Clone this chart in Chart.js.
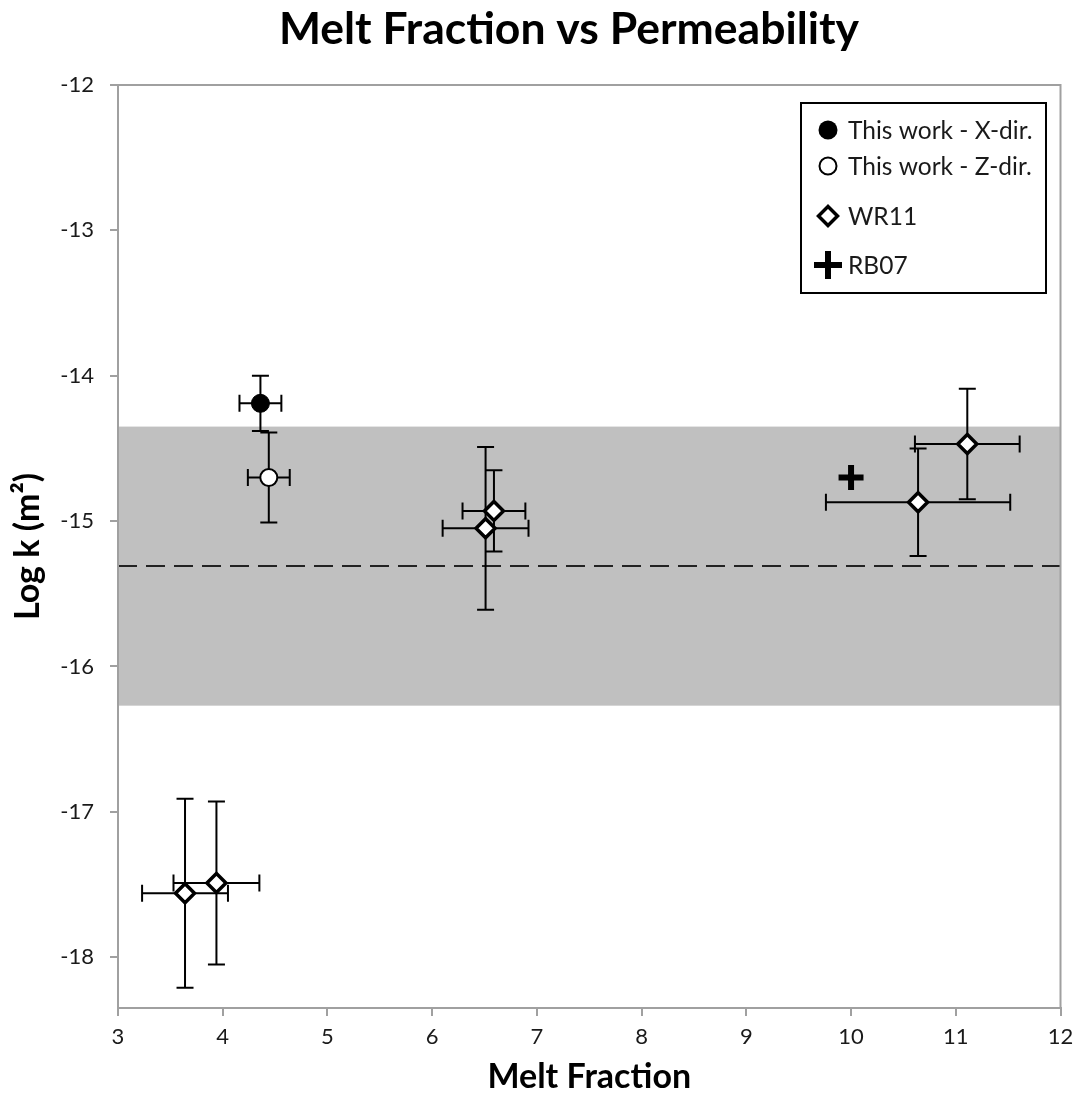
<!DOCTYPE html>
<html>
<head>
<meta charset="utf-8">
<script src="https://cdn.jsdelivr.net/npm/chart.js@4.4.1/dist/chart.umd.min.js"></script>
<style>
  html, body { margin: 0; padding: 0; background: #fff; }
</style>
</head>
<body>
<canvas id="chart" width="1079" height="1094"></canvas>
<script>
// values
const xDirX = [4.36];
const xDirY = [-14.19];
const xDirXErr = [0.2];
const xDirYErr = [0.19];

const zDirX = [4.44];
const zDirY = [-14.70];
const zDirXErr = [0.2];
const zDirYErr = [0.31];

const wr11X = [3.64, 3.94, 6.51, 6.59, 10.64, 11.11];
const wr11Y = [-17.56, -17.49, -15.05, -14.93, -14.87, -14.47];
const wr11XErr = [0.41, 0.41, 0.41, 0.30, 0.88, 0.50];
const wr11YErr = [0.65, 0.56, 0.56, 0.28, 0.37, 0.38];

const rb07X = [10.0];
const rb07Y = [-14.70];

const bandRange = [-16.27, -14.35];
const bandMean = -15.31;

const xTicks = [3, 4, 5, 6, 7, 8, 9, 10, 11, 12];
const yTicks = [-18, -17, -16, -15, -14, -13, -12];

const legendLabels = ['This work - X-dir.', 'This work - Z-dir.', 'WR11', 'RB07'];

const axisGray = '#a0a0a0';
const textColor = '#1a1a1a';
const fontFamily = 'Lato, "Open Sans", sans-serif';

const toPoints = (xs, ys) => xs.map((x, i) => ({ x: x, y: ys[i] }));

const errorSets = [
    { xs: xDirX, ys: xDirY, xe: xDirXErr, ye: xDirYErr },
    { xs: zDirX, ys: zDirY, xe: zDirXErr, ye: zDirYErr },
    { xs: wr11X, ys: wr11Y, xe: wr11XErr, ye: wr11YErr }
];

// grey band behind everything
const bandPlugin = {
    id: 'band',
    beforeDatasetsDraw(chart) {
        const { ctx, chartArea, scales } = chart;
        const yTop = scales.y.getPixelForValue(bandRange[1]);
        const yBot = scales.y.getPixelForValue(bandRange[0]);
        ctx.save();
        ctx.fillStyle = '#c0c0c0';
        ctx.fillRect(chartArea.left, yTop, chartArea.right - chartArea.left, yBot - yTop);
        ctx.restore();
    }
};

// error bars, drawn after the dashed line but under the markers
const errorBarPlugin = {
    id: 'errorBars',
    afterDatasetDraw(chart, args) {
        if (args.index !== 4) return;
        const { ctx, scales } = chart;
        const cap = 8.5;
        ctx.save();
        ctx.strokeStyle = '#000';
        ctx.lineWidth = 2;
        errorSets.forEach(s => {
            s.xs.forEach((x, i) => {
                const y = s.ys[i];
                const px = scales.x.getPixelForValue(x);
                const py = scales.y.getPixelForValue(y);
                const x0 = scales.x.getPixelForValue(x - s.xe[i]);
                const x1 = scales.x.getPixelForValue(x + s.xe[i]);
                const y0 = scales.y.getPixelForValue(y + s.ye[i]);
                const y1 = scales.y.getPixelForValue(y - s.ye[i]);
                ctx.beginPath();
                ctx.moveTo(x0, py); ctx.lineTo(x1, py);
                ctx.moveTo(x0, py - cap); ctx.lineTo(x0, py + cap);
                ctx.moveTo(x1, py - cap); ctx.lineTo(x1, py + cap);
                ctx.moveTo(px, y0); ctx.lineTo(px, y1);
                ctx.moveTo(px - cap, y0); ctx.lineTo(px + cap, y0);
                ctx.moveTo(px - cap, y1); ctx.lineTo(px + cap, y1);
                ctx.stroke();
            });
        });
        ctx.restore();
    }
};

// plot frame, chart title and boxed legend
const framePlugin = {
    id: 'frame',
    afterDraw(chart) {
        const { ctx, chartArea } = chart;
        ctx.save();
        ctx.strokeStyle = axisGray;
        ctx.lineWidth = 2;
        ctx.strokeRect(chartArea.left, chartArea.top, chartArea.right - chartArea.left, chartArea.bottom - chartArea.top);

        ctx.fillStyle = '#000';
        ctx.font = 'bold 44.5px ' + fontFamily;
        ctx.textAlign = 'center';
        ctx.textBaseline = 'alphabetic';
        ctx.fillText('Melt Fraction vs Permeability', 569, 44);

        // legend box
        ctx.strokeStyle = '#000';
        ctx.lineWidth = 2;
        ctx.strokeRect(801, 103, 245, 190);
        const rows = [130, 166, 216, 265];
        const mx = 828;
        ctx.lineWidth = 2;
        // filled circle
        ctx.beginPath(); ctx.arc(mx, rows[0], 9.5, 0, Math.PI * 2);
        ctx.fillStyle = '#000'; ctx.fill();
        // open circle
        ctx.beginPath(); ctx.arc(mx, rows[1], 8.5, 0, Math.PI * 2);
        ctx.fillStyle = '#fff'; ctx.fill(); ctx.stroke();
        // diamond
        ctx.lineWidth = 3.5;
        ctx.beginPath();
        ctx.moveTo(mx - 9.5, rows[2]); ctx.lineTo(mx, rows[2] - 9.5);
        ctx.lineTo(mx + 9.5, rows[2]); ctx.lineTo(mx, rows[2] + 9.5);
        ctx.closePath(); ctx.fill(); ctx.stroke();
        // plus
        ctx.lineWidth = 6;
        ctx.beginPath();
        ctx.moveTo(mx - 14, rows[3]); ctx.lineTo(mx + 14, rows[3]);
        ctx.moveTo(mx, rows[3] - 14); ctx.lineTo(mx, rows[3] + 14);
        ctx.stroke();

        ctx.fillStyle = textColor;
        ctx.font = '24.5px ' + fontFamily;
        ctx.textAlign = 'left';
        ctx.textBaseline = 'middle';
        legendLabels.forEach((t, i) => ctx.fillText(t, 848, rows[i] + 1));
        ctx.restore();
    }
};

const tickFont = { family: fontFamily, size: 22 };

new Chart(document.getElementById('chart'), {
    type: 'scatter',
    data: {
        datasets: [
            {
                label: legendLabels[0],
                data: toPoints(xDirX, xDirY),
                pointStyle: 'circle',
                pointRadius: 9,
                backgroundColor: '#000',
                borderColor: '#000',
                borderWidth: 1
            },
            {
                label: legendLabels[1],
                data: toPoints(zDirX, zDirY),
                pointStyle: 'circle',
                pointRadius: 8.5,
                backgroundColor: '#fff',
                borderColor: '#000',
                borderWidth: 2
            },
            {
                label: legendLabels[2],
                data: toPoints(wr11X, wr11Y),
                pointStyle: 'rectRot',
                pointRadius: 9.5,
                backgroundColor: '#fff',
                borderColor: '#000',
                borderWidth: 3.5
            },
            {
                label: legendLabels[3],
                data: toPoints(rb07X, rb07Y),
                pointStyle: 'cross',
                pointRadius: 12.5,
                borderColor: '#000',
                borderWidth: 6
            },
            {
                label: 'mean',
                data: [{ x: xTicks[0], y: bandMean }, { x: xTicks[xTicks.length - 1], y: bandMean }],
                showLine: true,
                pointRadius: 0,
                borderColor: '#222',
                borderWidth: 2,
                borderDash: [19, 9]
            }
        ]
    },
    options: {
        responsive: false,
        animation: false,
        devicePixelRatio: 1,
        layout: { padding: { top: 85, right: 16, left: 0, bottom: 0 } },
        plugins: {
            legend: { display: false },
            title: { display: false },
            tooltip: { enabled: false }
        },
        scales: {
            x: {
                type: 'linear',
                min: 3,
                max: 12,
                afterBuildTicks: s => { s.ticks = xTicks.map(v => ({ value: v })); },
                afterFit: s => { s.height = 86; s.paddingLeft = 0; s.paddingRight = 0; },
                ticks: { font: tickFont, color: textColor, padding: 8 },
                grid: { drawOnChartArea: false, tickLength: 8, color: axisGray, lineWidth: 2 },
                border: { color: axisGray, width: 2 },
                title: {
                    display: true,
                    text: 'Melt Fraction',
                    color: '#000',
                    font: { family: fontFamily, size: 34, weight: 'bold', lineHeight: 1 },
                    padding: { top: 0, bottom: 0 }
                }
            },
            y: {
                type: 'linear',
                min: -18.35,
                max: -12,
                afterBuildTicks: s => { s.ticks = yTicks.map(v => ({ value: v })); },
                afterFit: s => { s.width = 118; s.paddingTop = 0; s.paddingBottom = 0; },
                ticks: { font: tickFont, color: textColor, padding: 16 },
                grid: { drawOnChartArea: false, tickLength: 8, color: axisGray, lineWidth: 2 },
                border: { color: axisGray, width: 2 },
                title: {
                    display: true,
                    text: 'Log k (m²)',
                    color: '#000',
                    font: { family: fontFamily, size: 34, weight: 'bold', lineHeight: 1 },
                    padding: { top: 11, bottom: 0 }
                }
            }
        }
    },
    plugins: [bandPlugin, errorBarPlugin, framePlugin]
});
</script>
</body>
</html>
